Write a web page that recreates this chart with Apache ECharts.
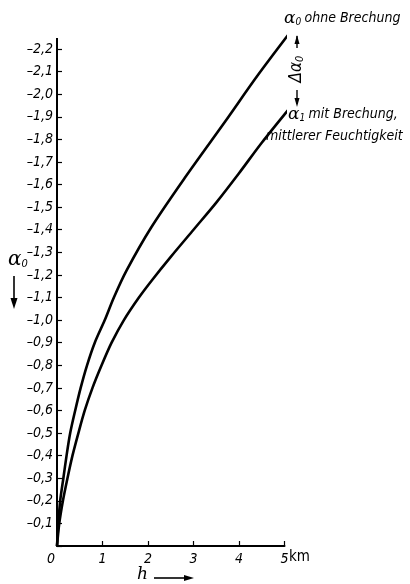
<!DOCTYPE html>
<html><head><meta charset="utf-8">
<script src="https://cdn.jsdelivr.net/npm/echarts@6/dist/echarts.min.js"></script>
<style>html,body{margin:0;padding:0;background:#fff;}#c{width:410px;height:584px;}</style>
</head><body><div id="c"></div>
<script>
// h in km, alpha values (negative)
const xTicks = [0, 1, 2, 3, 4, 5];
const yTicks = [-2.2, -2.1, -2.0, -1.9, -1.8, -1.7, -1.6, -1.5, -1.4, -1.3, -1.2, -1.1, -1.0, -0.9, -0.8, -0.7, -0.6, -0.5, -0.4, -0.3, -0.2, -0.1];
// alpha_0 ohne Brechung
const topH = [0, 0.03, 0.07, 0.14, 0.21, 0.29, 0.40, 0.52, 0.66, 0.83, 1.05, 1.25, 1.53, 2.07, 2.81, 3.7, 4.4, 5.11];
const topA = [0, -0.1, -0.2, -0.3, -0.4, -0.5, -0.6, -0.7, -0.8, -0.9, -1.0, -1.1, -1.22, -1.41, -1.63, -1.88, -2.08, -2.27];
// alpha_1 mit Brechung, mittlerer Feuchtigkeit
const lowH = [0, 0.05, 0.13, 0.23, 0.34, 0.47, 0.61, 0.78, 0.98, 1.2, 1.47, 1.8, 2.1, 2.5, 3.0, 3.5, 4.0, 4.5, 5.12];
const lowA = [0, -0.1, -0.2, -0.3, -0.4, -0.5, -0.6, -0.7, -0.8, -0.9, -1.0, -1.1, -1.18, -1.28, -1.40, -1.52, -1.65, -1.785, -1.94];
// short horizontal leaders at curve ends
const topLeaderH = [5.11, 5.26];
const topLeaderA = [-2.27, -2.27];
const lowLeaderH = [5.12, 5.26];
const lowLeaderA = [-1.94, -1.94];

const zip = (a, b) => a.map((v, i) => [v, b[i]]);
const FONT = "'Liberation Sans Narrow','DejaVu Sans Condensed','DejaVu Sans',sans-serif";
const chart = echarts.init(document.getElementById('c'), null, {renderer: 'canvas'});
const lineStyle = {color: '#000', width: 2.6};
const mk = (d) => ({type: 'line', data: d, showSymbol: false, symbol: 'none', clip: false, smooth: 0.3, lineStyle, silent: true});
chart.setOption({
  animation: false,
  backgroundColor: '#fff',
  grid: {left: 57, right: 125.5, top: 49, bottom: 38, containLabel: false},
  xAxis: {
    type: 'value', min: xTicks[0], max: xTicks[xTicks.length - 1], interval: 1,
    axisLine: {lineStyle: {color: '#000', width: 2}},
    axisTick: {inside: true, length: 5, lineStyle: {color: '#000', width: 1.2}},
    splitLine: {show: false},
    axisLabel: {
      color: '#000', fontSize: 14, fontStyle: 'italic', fontFamily: FONT, margin: 6,
      formatter: v => v === 0 ? '{z|0}' : String(v),
      rich: {z: {fontSize: 14, fontStyle: 'italic', fontFamily: FONT, color: '#000', padding: [0, 12, 0, 0]}}
    }
  },
  yAxis: {
    type: 'value', inverse: true, min: yTicks[0], max: 0, interval: 0.1,
    axisLine: {lineStyle: {color: '#000', width: 2}},
    axisTick: {inside: true, length: 5, lineStyle: {color: '#000', width: 1.2}},
    splitLine: {show: false},
    axisLabel: {
      color: '#000', fontSize: 14, fontStyle: 'italic', fontFamily: FONT, margin: 4,
      formatter: v => Math.abs(v) < 1e-9 ? '' : '\u2013' + Math.abs(v).toFixed(1).replace('.', ',')
    }
  },
  series: [
    mk(zip(topH, topA)), mk(zip(lowH, lowA)),
    Object.assign(mk(zip(topLeaderH, topLeaderA)), {smooth: false}),
    Object.assign(mk(zip(lowLeaderH, lowLeaderA)), {smooth: false})
  ],
  graphic: [
    // y-axis line extension above the last tick
    {type: 'line', shape: {x1: 57, y1: 38, x2: 57, y2: 50}, style: {stroke: '#000', lineWidth: 2}},
    // axis title alpha_0 with down arrow
    {type: 'text', left: 8, top: 250, style: {text: '{a|α}{s|0}', rich: {
      a: {fontSize: 20, fontStyle: 'italic', fontFamily: "'DejaVu Serif',serif", fill: '#000'},
      s: {fontSize: 11, fontStyle: 'italic', fontFamily: FONT, fill: '#000', padding: [8, 0, 0, 0]}}}},
    {type: 'line', shape: {x1: 14, y1: 276, x2: 14, y2: 300}, style: {stroke: '#000', lineWidth: 1.6}},
    {type: 'polygon', shape: {points: [[10.5, 298], [17.5, 298], [14, 309]]}, style: {fill: '#000'}},
    // h ->
    {type: 'text', left: 137, top: 566, style: {text: 'h', fontSize: 17, fontStyle: 'italic', fontFamily: "'DejaVu Serif',serif", fill: '#000'}},
    {type: 'line', shape: {x1: 154, y1: 578, x2: 186, y2: 578}, style: {stroke: '#000', lineWidth: 1.6}},
    {type: 'polygon', shape: {points: [[184, 575], [184, 581], [194, 578]]}, style: {fill: '#000'}},
    // km
    {type: 'text', left: 289, top: 550, style: {text: 'km', fontSize: 15, fontFamily: FONT, fill: '#000'}},
    // delta alpha_0 double arrow
    {type: 'line', shape: {x1: 297, y1: 36, x2: 297, y2: 48}, style: {stroke: '#000', lineWidth: 1.4}},
    {type: 'polygon', shape: {points: [[294.5, 44], [299.5, 44], [297, 35]]}, style: {fill: '#000'}},
    {type: 'line', shape: {x1: 297, y1: 90, x2: 297, y2: 104}, style: {stroke: '#000', lineWidth: 1.4}},
    {type: 'polygon', shape: {points: [[294.5, 98], [299.5, 98], [297, 107]]}, style: {fill: '#000'}},
    {type: 'text', x: 297, y: 69, rotation: Math.PI / 2, style: {text: '{d|Δα}{s|0}', align: 'center', verticalAlign: 'middle', rich: {
      d: {fontSize: 17, fontStyle: 'italic', fontFamily: FONT, fill: '#000'},
      s: {fontSize: 11, fontStyle: 'italic', fontFamily: FONT, fill: '#000', padding: [7, 0, 0, 0]}}}},
    // labels
    {type: 'text', left: 284, top: 10, style: {text: '{a|α}{s|0} {t|ohne Brechung}', rich: {
      a: {fontSize: 17, fontStyle: 'italic', fontFamily: "'DejaVu Serif',serif", fill: '#000'},
      s: {fontSize: 10, fontStyle: 'italic', fontFamily: FONT, fill: '#000', padding: [7, 0, 0, 0]},
      t: {fontSize: 14, fontStyle: 'italic', fontFamily: FONT, fill: '#000'}}}},
    {type: 'text', left: 288, top: 106, style: {text: '{a|α}{s|1} {t|mit Brechung,}', rich: {
      a: {fontSize: 17, fontStyle: 'italic', fontFamily: "'DejaVu Serif',serif", fill: '#000'},
      s: {fontSize: 10, fontStyle: 'italic', fontFamily: FONT, fill: '#000', padding: [7, 0, 0, 0]},
      t: {fontSize: 14, fontStyle: 'italic', fontFamily: FONT, fill: '#000'}}}},
    {type: 'text', left: 266, top: 129, style: {text: 'mittlerer Feuchtigkeit', fontSize: 14, fontStyle: 'italic', fontFamily: FONT, fill: '#000'}}
  ]
});
</script></body></html>
